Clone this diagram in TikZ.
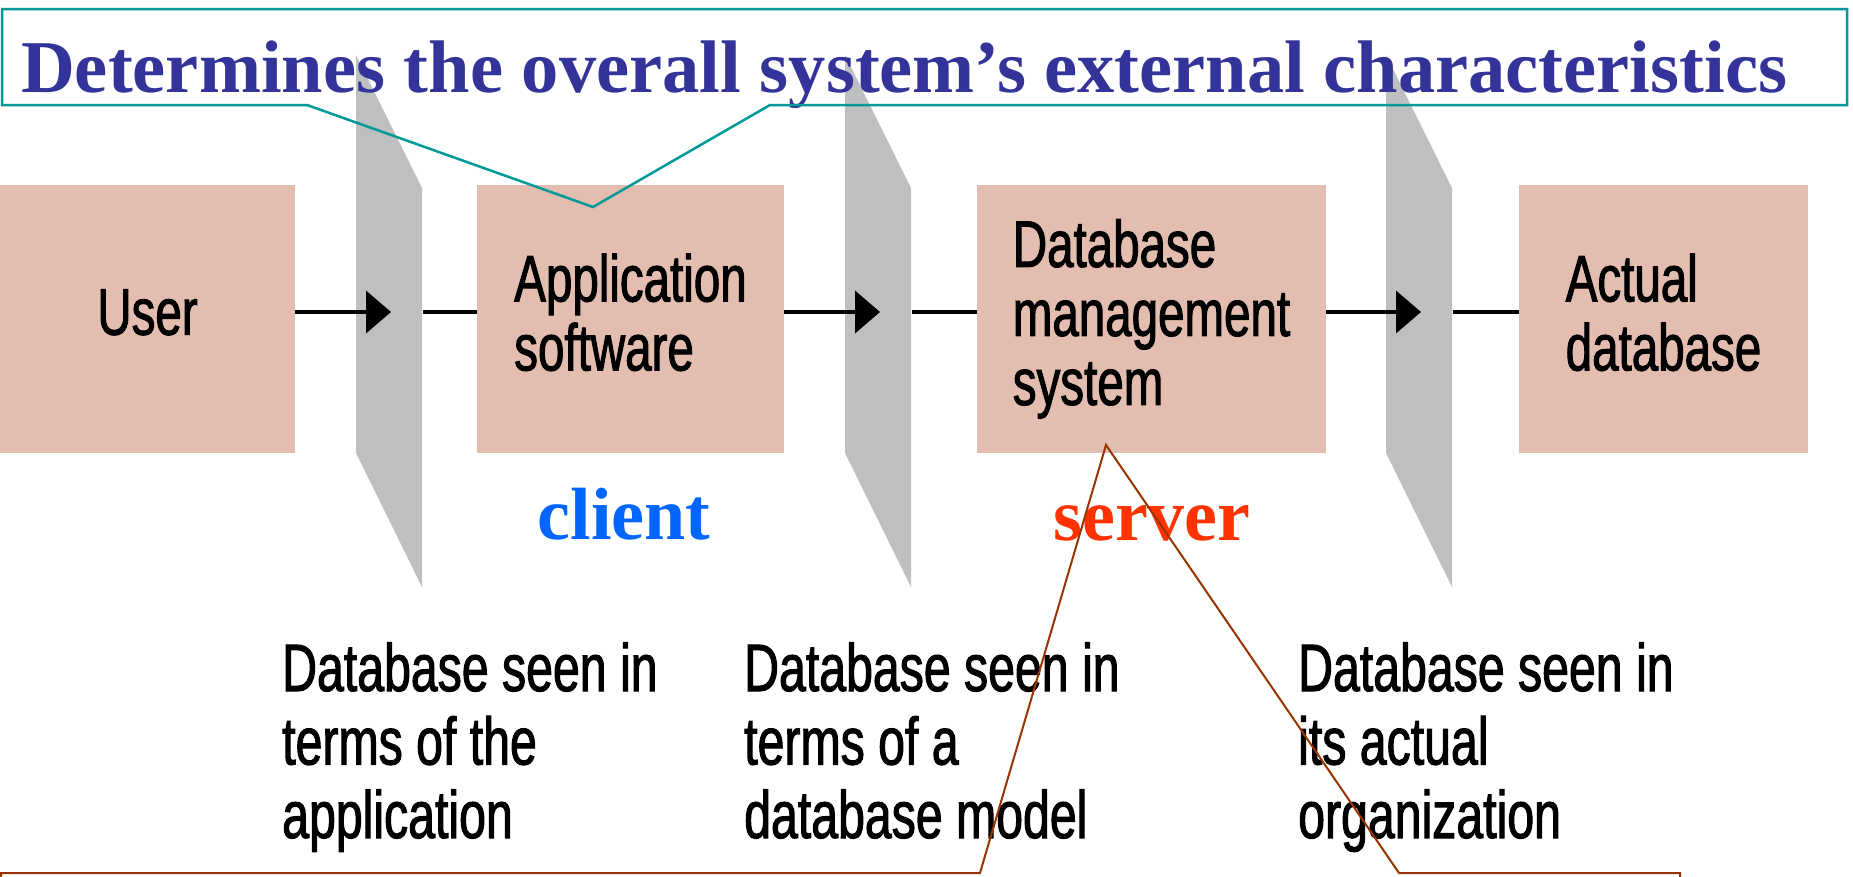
\documentclass[tikz,border=0pt]{standalone}
\usepackage{fontspec}
\setmainfont{Liberation Serif}
\newfontfamily\boxfont[FakeStretch=0.72,FakeBold=1.5]{Liberation Sans}
\usetikzlibrary{arrows.meta}
\definecolor{boxpink}{RGB}{227,190,176}
\definecolor{planegray}{RGB}{190,191,193}
\definecolor{callteal}{RGB}{0,153,153}
\definecolor{callbrown}{RGB}{153,51,0}
\definecolor{notenavy}{RGB}{51,51,153}
\definecolor{clientblue}{RGB}{0,102,255}
\definecolor{serverred}{RGB}{255,51,0}
\tikzset{
    block/.style={rectangle,fill=boxpink,inner sep=0pt,minimum height=268,align=left,text depth=14pt,font=\boxfont\fontsize{66}{69}\selectfont},
    plane/.style={fill=planegray},
    flow/.style={line width=4pt,-{Triangle[length=25pt,width=42pt]}},
    link/.style={line width=4pt},
    view/.style={anchor=base west,inner sep=0pt,align=left,font=\boxfont\fontsize{67}{73.5}\selectfont},
    tag/.style={anchor=base,inner sep=0pt,font=\bfseries\fontsize{74}{80}\selectfont},
    headline/.style={anchor=base west,inner sep=0pt,text=notenavy,font=\bfseries\fontsize{74.5}{80}\selectfont},
    tealcall/.style={draw=callteal,line width=2.5pt},
    browncall/.style={draw=callbrown,line width=2pt},
}
\begin{document}
\begin{tikzpicture}[x=1pt,y=-1pt]
    \useasboundingbox (0,0) rectangle (1853,876);
    \foreach \x/\n in {356/1,845/2,1386/3}{
        \fill[plane] (\x,55) -- ++(66,133) -- ++(0,399) -- ++(-66,-134) -- cycle;
        \coordinate (in\n) at (\x+35,312);
        \coordinate (out\n) at (\x+67,312);
    }

    \node[block,minimum width=295] (user) at (147.5,319) {User};
    \node[block,minimum width=307] (app) at (630.5,319) {Application\\software};
    \node[block,minimum width=349] (dbms) at (1151.5,319) {Database\\management\\system};
    \node[block,minimum width=289] (actual) at (1663.5,319) {Actual\\database};

    \foreach \a/\b/\n in {user/app/1,app/dbms/2,dbms/actual/3}{
        \draw[flow] ([yshift=7pt]\a.east) -- (in\n);
        \draw[link] (out\n) -- ([yshift=7pt]\b.west);
    }

    \node[tag,text=clientblue] (client) at (624,539) {client};
    \node[tag,text=serverred] (server) at (1152,540) {server};

    \node[view] (seen1) at (282,838) {Database seen in\\terms of the\\application};
    \node[view] (seen2) at (744,838) {Database seen in\\terms of a\\database model};
    \node[view] (seen3) at (1298,838) {Database seen in\\its actual\\organization};

    \node[headline] (note) at (21,92) {Determines the overall system's external characteristics};
    \draw[tealcall] (307,105) -- (2,105) -- (2,9) -- (1847,9) -- (1847,105) -- (770,105) -- (593,207) -- cycle;
    \draw[browncall] (1,890) -- (1,873) -- (980,873) -- (1106,445) -- (1399,873) -- (1680,873) -- (1680,890);
\end{tikzpicture}
\end{document}
